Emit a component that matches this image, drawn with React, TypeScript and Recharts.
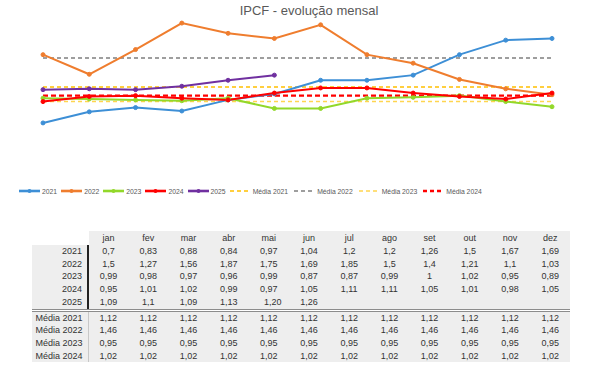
import React from 'react';
import { LineChart, Line, XAxis, YAxis } from 'recharts';

const months = ['jan', 'fev', 'mar', 'abr', 'mai', 'jun', 'jul', 'ago', 'set', 'out', 'nov', 'dez'];

const v2021 = [0.7, 0.83, 0.88, 0.84, 0.97, 1.04, 1.2, 1.2, 1.26, 1.5, 1.67, 1.69];
const v2022 = [1.5, 1.27, 1.56, 1.87, 1.75, 1.69, 1.85, 1.5, 1.4, 1.21, 1.1, 1.03];
const v2023 = [0.99, 0.98, 0.97, 0.96, 0.99, 0.87, 0.87, 0.99, 1, 1.02, 0.95, 0.89];
const v2024 = [0.95, 1.01, 1.02, 0.99, 0.97, 1.05, 1.11, 1.11, 1.05, 1.01, 0.98, 1.05];
const v2025 = [1.09, 1.1, 1.09, 1.13, 1.2, 1.26];

const media2021 = [1.12, 1.12, 1.12, 1.12, 1.12, 1.12, 1.12, 1.12, 1.12, 1.12, 1.12, 1.12];
const media2022 = [1.46, 1.46, 1.46, 1.46, 1.46, 1.46, 1.46, 1.46, 1.46, 1.46, 1.46, 1.46];
const media2023 = [0.95, 0.95, 0.95, 0.95, 0.95, 0.95, 0.95, 0.95, 0.95, 0.95, 0.95, 0.95];
const media2024 = [1.02, 1.02, 1.02, 1.02, 1.02, 1.02, 1.02, 1.02, 1.02, 1.02, 1.02, 1.02];

const yearLabels = ['2021', '2022', '2023', '2024', '2025'];
const mediaLabels = ['Média 2021', 'Média 2022', 'Média 2023', 'Média 2024'];

const yearColors = ['#3d8fd6', '#ef7d2e', '#92d82a', '#ff0000', '#7030a0'];
const mediaColors = ['#ffc000', '#7f7f7f', '#ffd54f', '#ff0000'];

const displayOverrides: Record<string, string> = { '2025-4': '1,20' };

const yearSeries = [v2021, v2022, v2023, v2024, v2025];
const mediaSeries = [media2021, media2022, media2023, media2024];

const data = months.map((m, i) => {
  const row: Record<string, any> = { m };
  yearSeries.forEach((s, k) => { row[yearLabels[k]] = s[i] ?? null; });
  mediaSeries.forEach((s, k) => { row[mediaLabels[k]] = s[i]; });
  return row;
});

const fmt = (v: number | undefined, key: string) => {
  if (displayOverrides[key]) return displayOverrides[key];
  if (v === undefined || v === null) return '';
  return String(v).replace('.', ',');
};

const font = '"Liberation Sans", Arial, sans-serif';

function LegendBar() {
  const items = [
    ...yearLabels.map((l, k) => ({ label: l, color: yearColors[k], dashed: false, w: 2.2 })),
    ...mediaLabels.map((l, k) => ({ label: l, color: mediaColors[k], dashed: true, w: k === 3 ? 2.4 : 1.5 })),
  ];
  return (
    <div style={{ position: 'absolute', left: 19, top: 186, display: 'flex', alignItems: 'center', fontFamily: font, fontSize: 6.8, color: '#595959' }}>
      {items.map((it) => (
        <div key={it.label} style={{ display: 'flex', alignItems: 'center', marginRight: it.dashed ? 6 : 4 }}>
          <svg width={21} height={10} style={{ marginRight: 2 }}>
            <line x1={0} y1={5} x2={21} y2={5} stroke={it.color} strokeWidth={it.dashed ? it.w : 2.6}
              strokeDasharray={it.dashed ? '4 3' : undefined} />
            {!it.dashed && <circle cx={10.5} cy={5} r={2} fill={it.color} />}
          </svg>
          <span>{it.label}</span>
        </div>
      ))}
    </div>
  );
}

const ROW_H = 12.7;
const HEAD_H = 13;

function DataTable() {
  const cellBg = '#eeeeee';
  const base: React.CSSProperties = { padding: 0, height: ROW_H, lineHeight: `${ROW_H}px`, background: cellBg, boxSizing: 'border-box', overflow: 'hidden' };
  const labelCell = (dark: boolean): React.CSSProperties => ({
    ...base, width: 56, paddingRight: 5, textAlign: 'right',
    borderRight: dark ? '2px solid #222' : '1px solid #c8c8c8', whiteSpace: 'nowrap',
  });
  const dataCell: React.CSSProperties = { ...base, width: 40.2, textAlign: 'center' };
  const rows1 = yearSeries.map((s, k) => ({ label: yearLabels[k], vals: s }));
  const rows2 = mediaSeries.map((s, k) => ({ label: mediaLabels[k], vals: s }));
  return (
    <table style={{ position: 'absolute', left: 32, top: 231, borderCollapse: 'collapse', borderSpacing: 0, fontFamily: font, fontSize: 9, color: '#333', tableLayout: 'fixed', width: 538 }}>
      <colgroup>
        <col style={{ width: 56 }} />
        {months.map((m) => <col key={m} style={{ width: 40.2 }} />)}
      </colgroup>
      <tbody>
        <tr style={{ height: HEAD_H }}>
          <td style={{ ...base, height: HEAD_H, lineHeight: `${HEAD_H}px`, background: '#fff', borderRight: '2px solid #fff' }}></td>
          {months.map((m) => (
            <td key={m} style={{ ...dataCell, height: HEAD_H, lineHeight: `${HEAD_H}px`, paddingTop: 1 }}>{m}</td>
          ))}
        </tr>
        {rows1.map((r, k) => (
          <tr key={r.label} style={{ height: ROW_H, borderBottom: k === 4 ? '3px double #8c8c8c' : undefined }}>
            <td style={labelCell(true)}>{r.label}</td>
            {months.map((m, i) => {
              const key = `${r.label}-${i}`;
              return (
                <td key={m} style={{ ...dataCell, paddingLeft: displayOverrides[key] ? 8 : 0 }}>{fmt(r.vals[i], key)}</td>
              );
            })}
          </tr>
        ))}
        {rows2.map((r) => (
          <tr key={r.label} style={{ height: ROW_H }}>
            <td style={labelCell(false)}>{r.label}</td>
            {months.map((m, i) => (
              <td key={m} style={dataCell}>{fmt(r.vals[i], `${r.label}-${i}`)}</td>
            ))}
          </tr>
        ))}
      </tbody>
    </table>
  );
}

export default function App() {
  return (
    <div style={{ position: 'absolute', left: 0, top: 0, width: 610, height: 372, background: '#fff', overflow: 'hidden' }}>
      <div style={{ position: 'absolute', left: 0, width: 610, top: 3, textAlign: 'center', fontFamily: font, fontSize: 13, color: '#595959', paddingLeft: 8, boxSizing: 'border-box' }}>
        IPCF - evolução mensal
      </div>
      <div style={{ position: 'absolute', left: 0, top: 0 }}>
        <LineChart width={610} height={150} data={data} margin={{ top: 12, right: 58, bottom: 10, left: 43 }}>
          <XAxis dataKey="m" hide scale="point" padding={{ left: 0, right: 0 }} />
          <YAxis hide domain={[0.5, 2.0]} />
          {mediaLabels.map((l, k) => (
            <Line key={l} dataKey={l} stroke={mediaColors[k]} strokeWidth={k === 3 ? 2.4 : 1.5}
              strokeDasharray={k === 3 ? '5 3' : '4 3'} dot={false} isAnimationActive={false} />
          ))}
          {yearLabels.map((l, k) => (
            <Line key={l} dataKey={l} stroke={yearColors[k]} strokeWidth={2}
              dot={{ r: 2, fill: yearColors[k], stroke: yearColors[k], strokeWidth: 1 }}
              isAnimationActive={false} connectNulls={false} />
          ))}
        </LineChart>
      </div>
      <LegendBar />
      <DataTable />
    </div>
  );
}
